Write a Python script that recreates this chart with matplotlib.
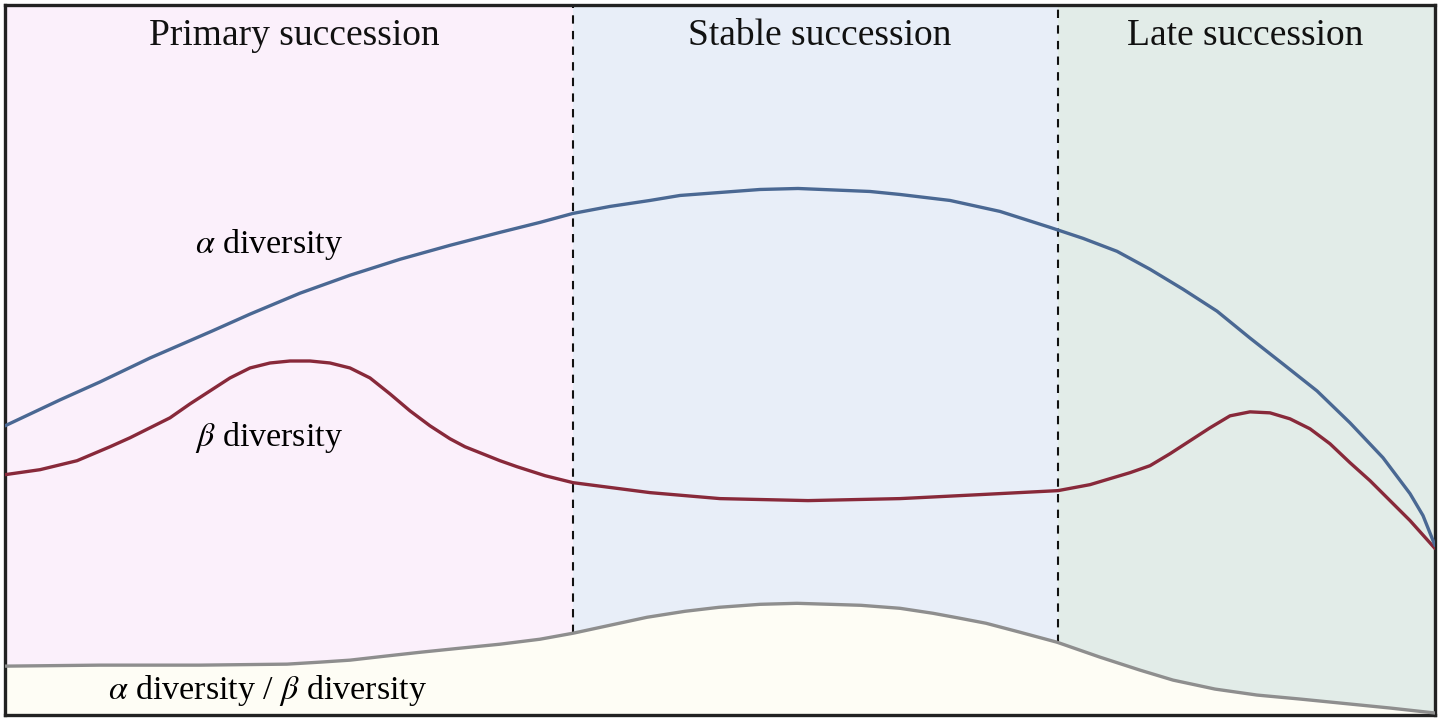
#!/usr/bin/env python3
# Succession-stage diversity schematic: alpha, beta and alpha/beta curves
# over three shaded stages.  Units are arbitrary (axis spans 0..1430 x 0..712).

import numpy as np
import matplotlib; matplotlib.use("Agg")
import matplotlib.pyplot as plt

plt.rcParams["font.family"] = ["Liberation Serif", "DejaVu Serif"]
plt.rcParams["mathtext.fontset"] = "stix"

# stage boundaries and labels
STAGES   = ["Primary succession", "Stable succession", "Late succession"]
BOUNDS   = [0, 568, 1053, 1430]

# alpha diversity
alpha_x = [0, 55, 95, 145, 207, 245, 295, 345, 395, 445, 495, 535, 568, 605, 645,
           675, 715, 755, 793, 865, 895, 945, 995,
           1045, 1078, 1112, 1145, 1178, 1212, 1245, 1278, 1312, 1345, 1378, 1405,
           1418, 1430]
alpha_y = [290, 316, 334, 358, 385, 402, 423, 441, 457, 471, 484, 494, 503, 510, 516,
           521, 524, 527, 528, 525, 522, 516, 505,
           489, 478, 465, 447, 427, 405, 378, 352, 325, 293, 258, 222,
           200, 170]

# beta diversity
beta_x = [0, 35, 72, 105, 125, 145, 165, 185, 205, 225, 245, 265, 285, 305, 325,
          345, 365, 385, 405, 425, 445, 460, 475, 495, 512, 540, 568, 645, 715, 803,
          895, 975, 1053, 1085, 1105, 1125, 1145, 1165, 1185, 1205, 1225, 1245, 1265,
          1285, 1305, 1325, 1345, 1365, 1385, 1405, 1430]
beta_y = [241, 246, 255, 269, 278, 288, 298, 312, 325, 338, 348, 353, 355, 355, 353,
          348, 338, 322, 305, 290, 277, 269, 263, 255, 249, 240, 233, 223, 217, 215,
          217, 221, 225, 231, 237, 243, 250, 262, 275, 288, 300, 304, 303,
          297, 287, 272, 253, 235, 215, 195, 167]

# alpha / beta ratio
ratio_x = [0, 95, 195, 282, 315, 345, 380, 416, 455, 495, 535, 568, 605, 642, 680,
           714, 755, 792, 825, 856, 895, 928, 955, 981, 1015, 1052, 1095, 1135, 1168,
           1210, 1252, 1295, 1335, 1385, 1430]
ratio_y = [49, 50, 50, 51, 53, 55, 59, 63, 67, 71, 76, 82, 90, 98, 104,
           108, 111, 112, 111, 110, 107, 102, 97, 92, 83, 73, 58, 45, 35,
           26, 20, 16, 12, 7, 2]

band_col = ["#FBF0FB", "#E8EEF8", "#E2ECE8"]

fig = plt.figure(figsize=(14.41, 7.2), dpi=100)
ax = fig.add_axes([5/1441, 5/720, 1430/1441, 710/720])
ax.set_xlim(0, 1430); ax.set_ylim(0, 712)

for k in range(3):
    ax.axvspan(BOUNDS[k], BOUNDS[k+1], color=band_col[k], lw=0, zorder=0)
ax.fill_between(ratio_x, ratio_y, 0, color="#FEFDF5", lw=0, zorder=1)

# dashed stage dividers run from the ratio curve to the top
for b in BOUNDS[1:3]:
    yb = np.interp(b, ratio_x, ratio_y)
    ax.vlines(b, yb, 712, colors="#111111", linestyles=(0, (4, 3.5)), lw=1.5, zorder=2)

kw = dict(lw=2.4, solid_capstyle="round", solid_joinstyle="round")
ax.plot(ratio_x, ratio_y, color="#8E8E8E", zorder=3, **kw)
ax.plot(beta_x, beta_y, color="#88293A", zorder=4, **kw)
ax.plot(alpha_x, alpha_y, color="#4A6893", zorder=5, **kw)

for k, lab in enumerate(STAGES):
    cx = [289, 815, 1240][k]
    ax.text(cx, 681, lab, ha="center", va="center", fontsize=27, color="#111111")

ax.text(190, 472, r"$\alpha$ diversity", ha="left", va="center", fontsize=24.5)
ax.text(190, 278, r"$\beta$ diversity", ha="left", va="center", fontsize=24.5)
ax.text(103, 25, r"$\alpha$ diversity / $\beta$ diversity", ha="left", va="center",
        fontsize=24.5)

ax.set_xticks([]); ax.set_yticks([])
for s in ax.spines.values():
    s.set_linewidth(2.4); s.set_color("#222222")

fig.savefig("out.png", dpi=100)
